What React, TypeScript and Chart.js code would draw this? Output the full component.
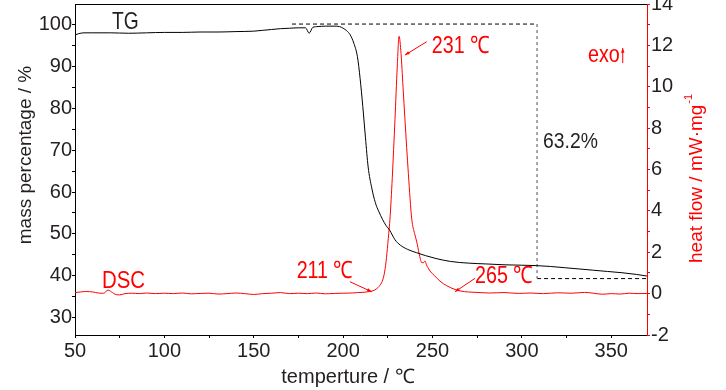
import React, { useEffect, useRef } from "react";
import { Chart, registerables } from "chart.js";

Chart.register(...registerables);

// ---------- data ----------
const xTicks = [50, 100, 150, 200, 250, 300, 350];
const xMinorTicks = [75, 125, 175, 225, 275, 325];
const massTicks = [30, 40, 50, 60, 70, 80, 90, 100];
const massMinorTicks = [35, 45, 55, 65, 75, 85, 95];
const heatTicks = [-2, 0, 2, 4, 6, 8, 10, 12, 14];
const heatMinorTicks = [-1, 1, 3, 5, 7, 9, 11, 13];

const tgTemp = [50, 52, 55, 60, 70, 80, 90, 100, 110, 120, 130, 140, 150, 155, 160, 165, 170, 175, 179, 181, 183, 186, 190, 195, 198, 200, 202, 204, 206, 208, 209.5, 211, 212.5, 214, 216, 218, 220, 222, 224, 226, 229, 232, 236, 241, 246, 252, 260, 270, 280, 290, 300, 308, 316, 324, 332, 340, 348, 356, 364, 370];
const tgMass = [97.6, 97.9, 98.1, 98.1, 98.1, 98.0, 98.1, 98.2, 98.2, 98.3, 98.3, 98.4, 98.5, 98.7, 98.9, 99.1, 99.2, 99.3, 99.3, 98.0, 99.4, 99.6, 99.7, 99.7, 99.6, 99.2, 98.6, 97.6, 95.6, 92.4, 87.2, 80.5, 73.0, 66.0, 61.0, 57.5, 55.3, 53.5, 52.0, 50.9, 48.6, 47.3, 46.3, 45.5, 44.8, 44.1, 43.4, 43.0, 42.8, 42.6, 42.5, 42.4, 42.2, 41.9, 41.6, 41.3, 41.0, 40.7, 40.3, 39.9];

const dscTemp = [50, 53, 56, 60, 63, 66, 68.5, 71, 73, 75, 78, 82, 86, 90, 95, 100, 105, 110, 115, 120, 125, 130, 135, 140, 145, 150, 155, 160, 165, 170, 175, 180, 185, 190, 195, 200, 205, 208, 211, 213, 215, 216.7, 218.5, 220.6, 222.3, 223.5, 224.5, 225.5, 226.2, 227.5, 229, 230.3, 231.3, 232.4, 233.5, 234.6, 236.5, 238.4, 240, 241.2, 242.5, 244, 245, 245.8, 246.6, 247.5, 249, 251, 254.2, 258, 262.6, 266, 270, 276.6, 282, 290, 298, 305, 312, 320, 328, 335, 340, 345, 350, 355, 360, 365, 370];
const dscHeat = [0.05, 0.08, 0.1, 0.08, 0.03, 0.02, 0.17, 0.05, -0.05, -0.06, 0.0, 0.02, 0.0, 0.03, 0.0, 0.02, 0.0, 0.03, -0.01, 0.01, 0.02, -0.02, 0.0, 0.03, 0.0, -0.04, 0.0, 0.02, 0.05, 0.0, 0.02, 0.0, 0.03, -0.01, 0.01, 0.02, 0.03, 0.05, 0.06, 0.08, 0.1, 0.14, 0.22, 0.4, 0.7, 1.2, 1.95, 2.9, 3.6, 5.6, 8.4, 11.0, 12.44, 11.6, 10.0, 8.4, 5.8, 3.6, 2.9, 2.5, 1.95, 1.5, 1.5, 1.58, 1.4, 1.25, 1.05, 0.88, 0.6, 0.38, 0.2, 0.12, 0.08, 0.05, 0.03, 0.05, 0.01, 0.03, 0.0, 0.04, 0.02, 0.06, 0.02, -0.03, 0.0, -0.02, 0.02, 0.0, 0.01];

// mass-loss guide (63.2 %)
const guideTemp = [171.4, 308.5, 370];
const guideMass = [100.2, 39.3];

// annotation anchors (data coordinates)
const peakLabel = { text: "231 ℃", t: 249.6, v: 11.97, from: [246.8, 12.18], to: [234.6, 11.53] };
const onsetLabel = { text: "211 ℃", t: 174, v: 1.09, from: [203.8, 0.575], to: [216, 0.09] };
const endLabel = { text: "265 ℃", t: 273.8, v: 0.85, from: [273.8, 0.74], to: [262.6, 0.09] };
const dscLabel = { text: "DSC", t: 65.1, v: 0.61 };
const exoLabel = { text: "exo", t: 337, v: 11.53 };
const tgLabel = { text: "TG", t: 70.7, m: 100.7 };
const lossLabel = { text: "63.2%", t: 311.8, m: 72.1 };

// ---------- styles ----------
const RED = "#ff0000";
const INK = "#231f20";
const FONT = '"Liberation Sans", Arial, sans-serif';

function drawArrow(ctx: CanvasRenderingContext2D, x1: number, y1: number, x2: number, y2: number) {
  ctx.beginPath();
  ctx.moveTo(x1, y1);
  ctx.lineTo(x2, y2);
  ctx.stroke();
  const a = Math.atan2(y2 - y1, x2 - x1);
  const h = 5;
  ctx.beginPath();
  ctx.moveTo(x2, y2);
  ctx.lineTo(x2 - h * Math.cos(a - 0.35), y2 - h * Math.sin(a - 0.35));
  ctx.lineTo(x2 - h * Math.cos(a + 0.35), y2 - h * Math.sin(a + 0.35));
  ctx.closePath();
  ctx.fill();
}

function narrowText(ctx: CanvasRenderingContext2D, text: string, x: number, y: number, size: number, sx: number) {
  ctx.save();
  ctx.font = `${size}px ${FONT}`;
  ctx.translate(x, y);
  ctx.scale(sx, 1);
  ctx.fillText(text, 0, 0);
  const w = ctx.measureText(text).width * sx;
  ctx.restore();
  return w;
}

const textPlugin = {
  id: "texts",
  afterDraw(chart: any) {
    const { ctx, chartArea, scales } = chart;
    const sx = scales.x, sl = scales.y, sr = scales.y1;
    ctx.save();
    // top frame line
    ctx.strokeStyle = "#000";
    ctx.lineWidth = 1;
    ctx.beginPath();
    ctx.moveTo(chartArea.left, chartArea.top + 0.5);
    ctx.lineTo(chartArea.right, chartArea.top + 0.5);
    ctx.stroke();

    ctx.textBaseline = "middle";
    // axis titles
    ctx.fillStyle = INK;
    ctx.font = `20px ${FONT}`;
    ctx.textAlign = "center";
    ctx.fillText("temperture / ℃", 348, 377);
    ctx.save();
    ctx.font = `19px ${FONT}`;
    ctx.translate(26, 155);
    ctx.rotate(-Math.PI / 2);
    ctx.fillText("mass percentage / %", 0, 0);
    ctx.restore();

    ctx.save();
    ctx.fillStyle = RED;
    ctx.translate(697, 263);
    ctx.rotate(-Math.PI / 2);
    ctx.textAlign = "left";
    ctx.font = `19px ${FONT}`;
    const main = "heat flow / mW·mg";
    ctx.fillText(main, 0, 0);
    const w = ctx.measureText(main).width;
    ctx.font = `11px ${FONT}`;
    ctx.fillText("-1", w + 1, -8);
    ctx.restore();

    // annotations
    ctx.textAlign = "left";
    ctx.fillStyle = RED;
    ctx.strokeStyle = RED;
    ctx.lineWidth = 1;
    for (const a of [peakLabel, onsetLabel, endLabel]) {
      narrowText(ctx, a.text, sx.getPixelForValue(a.t), sr.getPixelForValue(a.v), 24, 0.82);
      drawArrow(ctx, sx.getPixelForValue(a.from[0]), sr.getPixelForValue(a.from[1]), sx.getPixelForValue(a.to[0]), sr.getPixelForValue(a.to[1]));
    }
    narrowText(ctx, dscLabel.text, sx.getPixelForValue(dscLabel.t), sr.getPixelForValue(dscLabel.v), 24, 0.85);
    const ex = sx.getPixelForValue(exoLabel.t);
    const ey = sr.getPixelForValue(exoLabel.v);
    const ew = narrowText(ctx, exoLabel.text, ex, ey, 24, 0.82);
    drawArrow(ctx, ex + ew + 3, ey + 8, ex + ew + 3, ey - 7);

    ctx.fillStyle = INK;
    narrowText(ctx, tgLabel.text, sx.getPixelForValue(tgLabel.t), sl.getPixelForValue(tgLabel.m), 24, 0.8);
    narrowText(ctx, lossLabel.text, sx.getPixelForValue(lossLabel.t), sl.getPixelForValue(lossLabel.m), 22, 0.88);
    ctx.restore();
  },
};

export default function App() {
  const ref = useRef<HTMLCanvasElement>(null);
  useEffect(() => {
    if (!ref.current) return;
    const tickFont = { family: FONT, size: 20 };
    const chart = new Chart(ref.current, {
      type: "line",
      data: {
        datasets: [
          {
            label: "TG",
            data: tgTemp.map((t, i) => ({ x: t, y: tgMass[i] })),
            yAxisID: "y",
            borderColor: "#000",
            borderWidth: 1,
            pointRadius: 0,
            cubicInterpolationMode: "monotone",
          },
          {
            label: "DSC",
            data: dscTemp.map((t, i) => ({ x: t, y: dscHeat[i] })),
            yAxisID: "y1",
            borderColor: RED,
            borderWidth: 1,
            pointRadius: 0,
            cubicInterpolationMode: "monotone",
          },
          {
            label: "guide-top",
            data: [{ x: guideTemp[0], y: guideMass[0] }, { x: guideTemp[1], y: guideMass[0] }],
            yAxisID: "y",
            borderColor: "#000",
            borderWidth: 1,
            borderDash: [4, 3],
            pointRadius: 0,
          },
          {
            label: "guide-vertical",
            data: [{ x: guideTemp[1], y: guideMass[0] }, { x: guideTemp[1], y: guideMass[1] }],
            yAxisID: "y",
            borderColor: "#888",
            borderWidth: 1.5,
            borderDash: [3, 3],
            pointRadius: 0,
          },
          {
            label: "guide-bottom",
            data: [{ x: guideTemp[1], y: guideMass[1] }, { x: guideTemp[2], y: guideMass[1] }],
            yAxisID: "y",
            borderColor: "#000",
            borderWidth: 1,
            borderDash: [4, 3],
            pointRadius: 0,
          },
        ],
      },
      options: {
        responsive: false,
        animation: false,
        events: [],
        layout: { padding: { top: 4, left: 0, right: 0, bottom: 0 } },
        plugins: { legend: { display: false }, tooltip: { enabled: false } },
        scales: {
          x: {
            type: "linear",
            min: 50,
            max: 370,
            afterBuildTicks: (axis: any) => {
              axis.ticks = [...xTicks, ...xMinorTicks].sort((a, b) => a - b).map((v) => ({ value: v }));
            },
            afterFit: (axis: any) => {
              axis.height = 55;
              axis.paddingLeft = 0;
              axis.paddingRight = 0;
            },
            ticks: {
              autoSkip: false,
              maxRotation: 0,
              padding: 1,
              color: INK,
              font: tickFont,
              callback: (v: any) => (xTicks.includes(v) ? String(v) : ""),
            },
            grid: { drawOnChartArea: false, drawTicks: true, tickLength: 3, color: "#000" },
            border: { display: true, color: "#000", width: 1 },
          },
          y: {
            type: "linear",
            position: "left",
            min: 25.8,
            max: 105,
            afterBuildTicks: (axis: any) => {
              axis.ticks = [...massTicks, ...massMinorTicks].sort((a, b) => a - b).map((v) => ({ value: v }));
            },
            afterFit: (axis: any) => {
              axis.width = 75;
              axis.paddingTop = 0;
              axis.paddingBottom = 0;
            },
            ticks: {
              autoSkip: false,
              padding: 0,
              color: INK,
              font: tickFont,
              callback: (v: any) => (massTicks.includes(v) ? String(v) : ""),
            },
            grid: { drawOnChartArea: false, drawTicks: true, tickLength: 3, color: "#000" },
            border: { display: true, color: "#000", width: 1 },
          },
          y1: {
            type: "linear",
            position: "right",
            min: -2,
            max: 14,
            afterBuildTicks: (axis: any) => {
              axis.ticks = [...heatTicks, ...heatMinorTicks].sort((a, b) => a - b).map((v) => ({ value: v }));
            },
            afterFit: (axis: any) => {
              axis.width = 79;
              axis.paddingTop = 0;
              axis.paddingBottom = 0;
            },
            ticks: {
              autoSkip: false,
              padding: 1,
              color: INK,
              font: tickFont,
              callback: (v: any) => (heatTicks.includes(v) ? String(v) : ""),
            },
            grid: { drawOnChartArea: false, drawTicks: true, tickLength: 3, color: RED },
            border: { display: true, color: RED, width: 1 },
          },
        },
      },
      plugins: [textPlugin],
    } as any);
    return () => chart.destroy();
  }, []);

  return (
    <div style={{ position: "fixed", left: 0, top: 0, width: 726, height: 390, background: "#fff" }}>
      <canvas ref={ref} width={726} height={390} style={{ width: 726, height: 390, display: "block" }} />
    </div>
  );
}
